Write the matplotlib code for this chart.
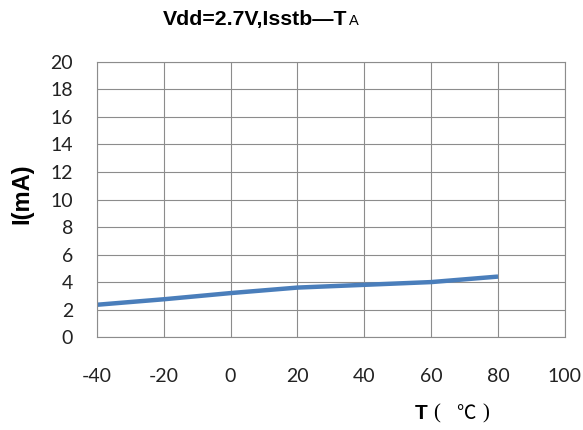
import matplotlib
matplotlib.use("Agg")
import matplotlib.pyplot as plt

plt.rcParams["axes.unicode_minus"] = False

# Isstb vs ambient temperature at Vdd=2.7V
temps = [-40, -20, 0, 20, 40, 60, 80]
current_ma = [2.35, 2.75, 3.2, 3.6, 3.8, 4.0, 4.4]
x_ticks = [-40, -20, 0, 20, 40, 60, 80, 100]
y_ticks = [0, 2, 4, 6, 8, 10, 12, 14, 16, 18, 20]

fig = plt.figure(figsize=(5.83, 4.3), dpi=100)
ax = fig.add_axes([0.166, 0.216, 0.803, 0.640])

ax.plot(temps, current_ma, color="#4A7EBB", linewidth=3.2, solid_capstyle="butt")

ax.set_xlim(-40, 100)
ax.set_ylim(0, 20)
ax.set_xticks(x_ticks)
ax.set_yticks(y_ticks)
ax.grid(True, color="#8c8c8c", linewidth=0.8)
ax.set_axisbelow(True)
for s in ax.spines.values():
    s.set_color("#8c8c8c")
    s.set_linewidth(0.8)
ax.tick_params(length=0, labelsize=14, colors="#222222")
ax.tick_params(axis="x", pad=22)
ax.tick_params(axis="y", pad=17)
for lab in ax.get_xticklabels() + ax.get_yticklabels():
    lab.set_family("Lato")

# title, with a smaller "A" right after the T
t1 = fig.text(0.28, 0.942, "Vdd=2.7V,Isstb\u2014T", fontsize=15.3, fontweight="bold",
              family="Liberation Sans", ha="left", va="baseline")
fig.canvas.draw()
bb = t1.get_window_extent(renderer=fig.canvas.get_renderer())
fig.text(bb.x1 / fig.bbox.width + 0.002, 0.942, "A", fontsize=10.5, family="Liberation Sans",
         ha="left", va="baseline")

fig.text(0.038, 0.55, "I(mA)", rotation=90, fontsize=17, fontweight="bold",
         family="Liberation Sans", ha="center", va="center")

# x axis label: T (℃) spread out like the original
fig.text(0.712, 0.026, "T", fontsize=15, fontweight="bold",
         family="Liberation Sans", ha="left", va="baseline")
fig.text(0.743, 0.026, "(", fontsize=15, family="Liberation Serif",
         ha="left", va="baseline")
fig.text(0.783, 0.026, "\u2103", fontsize=14,
         family=["Noto Sans CJK SC", "DejaVu Sans"], ha="left", va="baseline")
fig.text(0.828, 0.026, ")", fontsize=15, family="Liberation Serif",
         ha="left", va="baseline")

fig.savefig("out.png", dpi=100)
